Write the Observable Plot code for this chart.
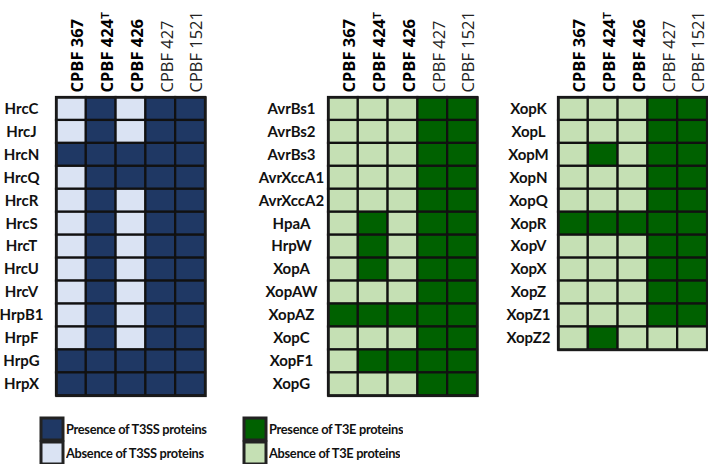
<!DOCTYPE html>
<html>
<head>
<meta charset="utf-8">
<script src="https://cdn.jsdelivr.net/npm/d3@7"></script>
<script src="https://cdn.jsdelivr.net/npm/@observablehq/plot@0.6"></script>
<style>
  body { margin: 0; background: #fff; }
  #chart { position: relative; width: 708px; height: 464px; overflow: hidden; font-family: "Open Sans", sans-serif; }
  #chart svg.panel { position: absolute; top: 0; }
  .leg { position: absolute; top: 417px; }
  .lg-swatch { margin: 0 !important; height: 23px; display: flex; align-items: center; font: bold 12.8px Lato, sans-serif; letter-spacing: -0.3px; color: #111; }
  .lg-swatch svg { margin-right: 3px !important; }
  .lg-swatch svg rect { stroke: #222; stroke-width: 3; }
</style>
</head>
<body>
<div id="chart"></div>
<script>
const strains = ["CPBF 367", "CPBF 424ᵀ", "CPBF 426", "CPBF 427", "CPBF 1521"];

const t3ssGenes = ["HrcC","HrcJ","HrcN","HrcQ","HrcR","HrcS","HrcT","HrcU","HrcV","HrpB1","HrpF","HrpG","HrpX"];
const t3ssValues = [
  [0,1,0,1,1],[0,1,0,1,1],[1,1,1,1,1],[0,1,1,1,1],[0,1,0,1,1],[0,1,0,1,1],[0,1,0,1,1],
  [0,1,0,1,1],[0,1,0,1,1],[0,1,0,1,1],[0,1,0,1,1],[1,1,1,1,1],[1,1,1,1,1]
];

const t3eGenesA = ["AvrBs1","AvrBs2","AvrBs3","AvrXccA1","AvrXccA2","HpaA","HrpW","XopA","XopAW","XopAZ","XopC","XopF1","XopG"];
const t3eValuesA = [
  [0,0,0,1,1],[0,0,0,1,1],[0,0,0,1,1],[0,0,0,1,1],[0,0,0,1,1],[0,1,0,1,1],[0,1,0,1,1],
  [0,1,0,1,1],[0,0,0,1,1],[1,1,1,1,1],[0,0,0,1,1],[0,1,1,1,1],[0,0,0,1,1]
];

const t3eGenesB = ["XopK","XopL","XopM","XopN","XopQ","XopR","XopV","XopX","XopZ","XopZ1","XopZ2"];
const t3eValuesB = [
  [0,0,0,1,1],[0,0,0,1,1],[0,1,0,1,1],[0,0,0,1,1],[0,0,0,1,1],[1,1,1,1,1],
  [0,0,0,1,1],[0,0,0,1,1],[0,0,0,1,1],[0,0,0,1,1],[0,1,0,0,0]
];

const t3ssColors = ["#1f3864", "#dae3f3"];
const t3eColors = ["#006100", "#c5e0b4"];
const legendT3SS = ["Presence of T3SS proteins", "Absence of T3SS proteins"];
const legendT3E = ["Presence of T3E proteins", "Absence of T3E proteins"];

const chart = document.getElementById("chart");

function panel({genes, values, colors, left, marginLeft, width, labelDx}) {
  const data = genes.flatMap((g, i) => strains.map((s, j) => ({gene: g, strain: s, v: values[i][j] ? "P" : "A"})));
  const rowH = 22.95;
  const svg = Plot.plot({
    width,
    height: 97 + genes.length * rowH + 3,
    marginTop: 97,
    marginBottom: 3,
    marginLeft,
    marginRight: width - marginLeft - 149,
    x: {domain: strains, axis: null, padding: 0, round: false},
    y: {domain: genes, axis: null, padding: 0, round: false},
    color: {type: "ordinal", domain: ["P", "A"], range: colors},
    style: {fontFamily: "Open Sans, sans-serif", overflow: "visible"},
    marks: [
      Plot.cell(data, {x: "strain", y: "gene", fill: "v", stroke: "#111", strokeWidth: 2.2}),
      Plot.frame({stroke: "#1a1a1a", strokeWidth: 2.5}),
      Plot.text(genes, {y: d => d, frameAnchor: "left", dx: labelDx, textAnchor: "middle", fontWeight: "bold", fontSize: 15, fontFamily: "Lato, sans-serif", fill: "#111"}),
      Plot.text(strains.slice(0, 3), {x: d => d, frameAnchor: "top", dy: -5, rotate: -90, textAnchor: "start", fontWeight: "bold", fontSize: 16.5, fill: "#000"}),
      Plot.text(strains.slice(3), {x: d => d, frameAnchor: "top", dy: -5, rotate: -90, textAnchor: "start", fontWeight: "normal", fontSize: 16.5, fill: "#222"})
    ]
  });
  svg.classList.add("panel");
  svg.style.left = left + "px";
  chart.appendChild(svg);
}

panel({genes: t3ssGenes, values: t3ssValues, colors: t3ssColors, left: 0, marginLeft: 56, width: 210, labelDx: -35});
panel({genes: t3eGenesA, values: t3eValuesA, colors: t3eColors, left: 240, marginLeft: 88, width: 240, labelDx: -37});
panel({genes: t3eGenesB, values: t3eValuesB, colors: t3eColors, left: 480, marginLeft: 78, width: 228, labelDx: -30});

function legend(labels, colors, left) {
  const lg = Plot.legend({
    color: {type: "ordinal", domain: labels, range: colors},
    legend: "swatches",
    columns: 1,
    swatchSize: 22,
    className: "lg"
  });
  lg.classList.add("leg");
  lg.style.left = left + "px";
  lg.style.position = "absolute";
  chart.appendChild(lg);
}
legend(legendT3SS, t3ssColors, 41);
legend(legendT3E, t3eColors, 244);
</script>
</body>
</html>
